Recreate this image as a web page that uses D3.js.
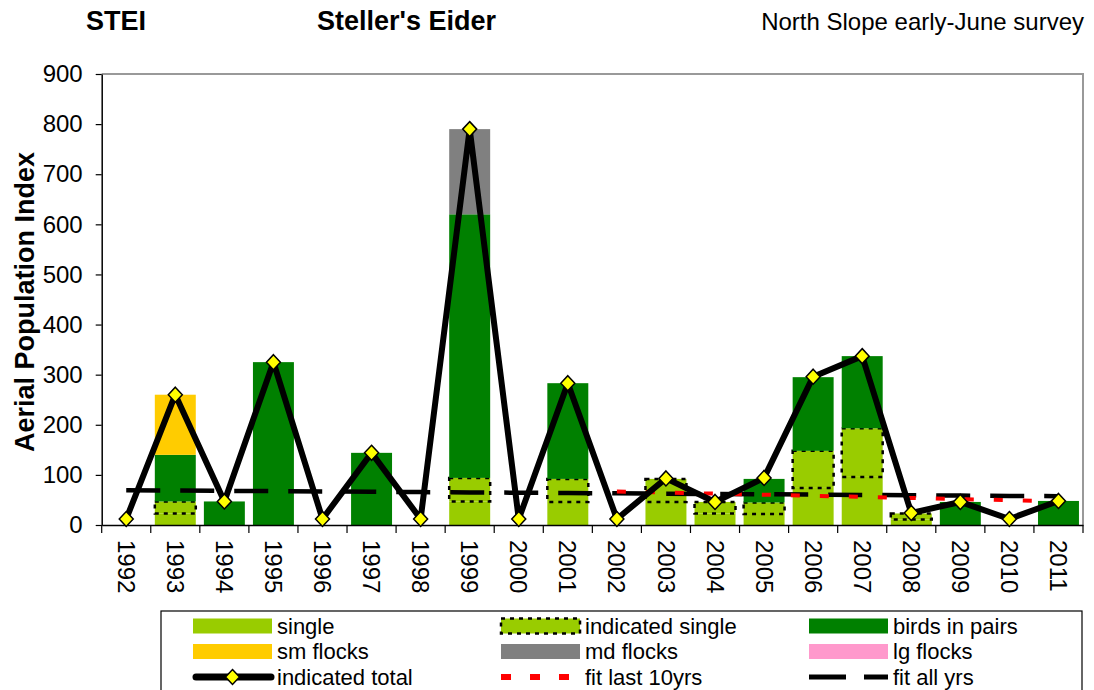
<!DOCTYPE html>
<html>
<head>
<meta charset="utf-8">
<script src="https://cdn.jsdelivr.net/npm/d3@7"></script>
<style>
  body { margin: 0; background: #fff; }
  svg { font-family: "Liberation Sans", Arial, sans-serif; }
</style>
</head>
<body>
<svg id="chart" width="1094" height="690"></svg>
<script>
// --- Data ---
const years = ["1992","1993","1994","1995","1996","1997","1998","1999","2000","2001",
               "2002","2003","2004","2005","2006","2007","2008","2009","2010","2011"];
const single    = [0, 23, 0, 0, 0, 0, 0, 47, 0, 46, 0, 46, 23, 22, 74, 96, 11, 0, 0, 0];
const indSingle = [0, 24, 0, 0, 0, 0, 0, 47, 0, 46, 0, 46, 23, 23, 74, 97, 12, 0, 0, 0];
const pairs     = [0, 93, 47, 325, 0, 144, 0, 526, 0, 191, 0, 0, 0, 47, 147, 144, 0, 46, 0, 48];
const smFlocks  = [0, 120, 0, 0, 0, 0, 0, 0, 0, 0, 0, 0, 0, 0, 0, 0, 0, 0, 0, 0];
const mdFlocks  = [0, 0, 0, 0, 0, 0, 0, 170, 0, 0, 0, 0, 0, 0, 0, 0, 0, 0, 0, 0];
const lgFlocks  = [0, 0, 0, 0, 0, 0, 0, 0, 0, 0, 0, 0, 0, 0, 0, 0, 0, 0, 0, 0];
const indTotal  = [12, 260, 47, 325, 12, 144, 12, 790, 12, 283, 12, 93, 46, 94, 296, 337, 24, 46, 12, 48];
const fitAll    = [69.5, 68.9, 68.2, 67.6, 67.0, 66.3, 65.7, 65.1, 64.4, 63.8,
                   63.2, 62.5, 61.9, 61.3, 60.6, 60.0, 59.4, 58.7, 58.1, 57.5];
const fitYears  = ["2002","2003","2004","2005","2006","2007","2008","2009","2010","2011"];
const fitLast10 = [67, 64.8, 62.6, 60.5, 58.3, 56.1, 53.9, 51.7, 49.6, 47.4];
const yTicks = [0, 100, 200, 300, 400, 500, 600, 700, 800, 900];

const series = [
  { key: "single",    label: "single",          color: "#99cc00", values: single },
  { key: "indSingle", label: "indicated single", color: "#99cc00", values: indSingle, dotted: true },
  { key: "pairs",     label: "birds in pairs",  color: "#008000", values: pairs },
  { key: "sm",        label: "sm flocks",       color: "#ffcc00", values: smFlocks },
  { key: "md",        label: "md flocks",       color: "#808080", values: mdFlocks },
  { key: "lg",        label: "lg flocks",       color: "#ff99cc", values: lgFlocks }
];

// --- Layout ---
const plot = { left: 101.7, right: 1083, top: 74, bottom: 525 };
const svg = d3.select("#chart");

const x = d3.scaleBand()
    .domain(years)
    .range([plot.left, plot.right])
    .paddingInner(0.165)
    .paddingOuter(0.0825);
const cx = d => x(d) + x.bandwidth() / 2;

const y = d3.scaleLinear()
    .domain([0, 900])
    .range([plot.bottom, plot.top]);

// titles
svg.append("text").attr("x", 86).attr("y", 30)
    .style("font-size", "27px").style("font-weight", "bold").text("STEI");
svg.append("text").attr("x", 317).attr("y", 30)
    .style("font-size", "27px").style("font-weight", "bold").text("Steller's Eider");
svg.append("text").attr("x", 1084).attr("y", 30).attr("text-anchor", "end")
    .style("font-size", "24px").text("North Slope early-June survey");

// plot frame (grey top / right)
svg.append("path")
    .attr("d", `M${plot.left},${plot.top}H${plot.right}V${plot.bottom}`)
    .attr("fill", "none").attr("stroke", "#999").attr("stroke-width", 2);

// --- Stacked bars ---
const rows = years.map((yr, i) => {
  const r = { year: yr };
  series.forEach(s => r[s.key] = s.values[i]);
  return r;
});
const stacked = d3.stack().keys(series.map(s => s.key))(rows);

const barG = svg.append("g");
stacked.forEach((layer, li) => {
  const s = series[li];
  barG.append("g")
    .selectAll("rect")
    .data(layer.filter(d => d[1] - d[0] > 0))
    .enter()
    .append("rect")
      .attr("x", d => x(d.data.year))
      .attr("width", x.bandwidth())
      .attr("y", d => y(d[1]))
      .attr("height", d => y(d[0]) - y(d[1]))
      .attr("fill", s.color)
      .attr("stroke", s.dotted ? "#000" : "none")
      .attr("stroke-width", s.dotted ? 2.5 : 0)
      .attr("stroke-dasharray", s.dotted ? "4,5" : null);
});

// --- Axes ---
const yAxis = svg.append("g")
    .attr("transform", `translate(${plot.left},0)`)
    .call(d3.axisLeft(y).tickValues(yTicks).tickSize(6).tickSizeOuter(0).tickPadding(13));
yAxis.selectAll("text").style("font-size", "24px").attr("fill", "#000");
yAxis.select(".domain").attr("stroke", "#000").attr("stroke-width", 1.5);
yAxis.selectAll(".tick line").attr("stroke", "#000").attr("stroke-width", 1.2);

const xAxis = svg.append("g")
    .attr("transform", `translate(0,${plot.bottom})`)
    .call(d3.axisBottom(x).tickSize(0).tickSizeOuter(0));
xAxis.select(".domain").attr("stroke", "#000").attr("stroke-width", 1.5);
xAxis.selectAll("text")
    .attr("transform", "rotate(90)")
    .attr("x", 15).attr("y", 0).attr("dy", "0.35em")
    .style("text-anchor", "start")
    .style("font-size", "24px")
    .attr("fill", "#000");

// category boundary ticks
xAxis.selectAll(".bound")
    .data(d3.range(years.length + 1))
    .enter()
    .append("line")
      .attr("x1", i => plot.left + i * x.step())
      .attr("x2", i => plot.left + i * x.step())
      .attr("y1", 0).attr("y2", 8)
      .attr("stroke", "#000").attr("stroke-width", 1.2);

svg.append("text")
    .attr("transform", `translate(34,302) rotate(-90)`)
    .attr("text-anchor", "middle")
    .style("font-size", "27px").style("font-weight", "bold")
    .text("Aerial Population Index");

// --- Fit lines ---
const line = d3.line().x(d => cx(d.year)).y(d => y(d.v));

svg.append("path")
    .datum(years.map((yr, i) => ({ year: yr, v: fitAll[i] })))
    .attr("d", line)
    .attr("fill", "none").attr("stroke", "#000")
    .attr("stroke-width", 4.5).attr("stroke-dasharray", "34,20");

svg.append("path")
    .datum(fitYears.map((yr, i) => ({ year: yr, v: fitLast10[i] })))
    .attr("d", line)
    .attr("fill", "none").attr("stroke", "#ff0000")
    .attr("stroke-width", 4).attr("stroke-dasharray", "9,20");

// --- Indicated total ---
const totals = years.map((yr, i) => ({ year: yr, v: indTotal[i] }));
svg.append("path")
    .datum(totals)
    .attr("d", line)
    .attr("fill", "none").attr("stroke", "#000")
    .attr("stroke-width", 6).attr("stroke-linejoin", "round");

const diamond = "M0,-7.5L7,0L0,7.5L-7,0Z";
svg.append("g")
    .selectAll("path")
    .data(totals)
    .enter()
    .append("path")
      .attr("d", diamond)
      .attr("transform", d => `translate(${cx(d.year)},${y(d.v)})`)
      .attr("fill", "#ffff00").attr("stroke", "#000").attr("stroke-width", 1.5);

// --- Legend ---
const legend = svg.append("g");
legend.append("rect")
    .attr("x", 161).attr("y", 611).attr("width", 921).attr("height", 100)
    .attr("fill", "#fff").attr("stroke", "#000").attr("stroke-width", 1.2);

const colX = [193, 501, 809];
const rowY = [626, 651.5, 677];
const swW = 79, swH = 15;

series.forEach((s, i) => {
  const lx = colX[i % 3], ly = rowY[Math.floor(i / 3)];
  legend.append("rect")
    .attr("x", lx).attr("y", ly - swH / 2).attr("width", swW).attr("height", swH)
    .attr("fill", s.color)
    .attr("stroke", s.dotted ? "#000" : "none")
    .attr("stroke-width", s.dotted ? 2.5 : 0)
    .attr("stroke-dasharray", s.dotted ? "4,5" : null);
  legend.append("text")
    .attr("x", lx + swW + 5).attr("y", ly).attr("dy", "0.35em")
    .style("font-size", "22px").text(s.label);
});

// row 3: line entries
const r3 = rowY[2];
legend.append("line")
    .attr("x1", colX[0] + 3).attr("x2", colX[0] + swW - 1).attr("y1", r3).attr("y2", r3)
    .attr("stroke", "#000").attr("stroke-width", 7).attr("stroke-linecap", "round");
legend.append("path")
    .attr("d", diamond)
    .attr("transform", `translate(${colX[0] + swW / 2},${r3})`)
    .attr("fill", "#ffff00").attr("stroke", "#000").attr("stroke-width", 1.5);
legend.append("line")
    .attr("x1", colX[1]).attr("x2", colX[1] + 70).attr("y1", r3).attr("y2", r3)
    .attr("stroke", "#ff0000").attr("stroke-width", 6).attr("stroke-dasharray", "10,19");
legend.append("line")
    .attr("x1", colX[2]).attr("x2", colX[2] + swW).attr("y1", r3).attr("y2", r3)
    .attr("stroke", "#000").attr("stroke-width", 5).attr("stroke-dasharray", "37,18");

const lineLabels = ["indicated total", "fit last 10yrs", "fit all yrs"];
lineLabels.forEach((t, i) => {
  legend.append("text")
    .attr("x", colX[i] + swW + 5).attr("y", r3).attr("dy", "0.35em")
    .style("font-size", "22px").text(t);
});
</script>
</body>
</html>
